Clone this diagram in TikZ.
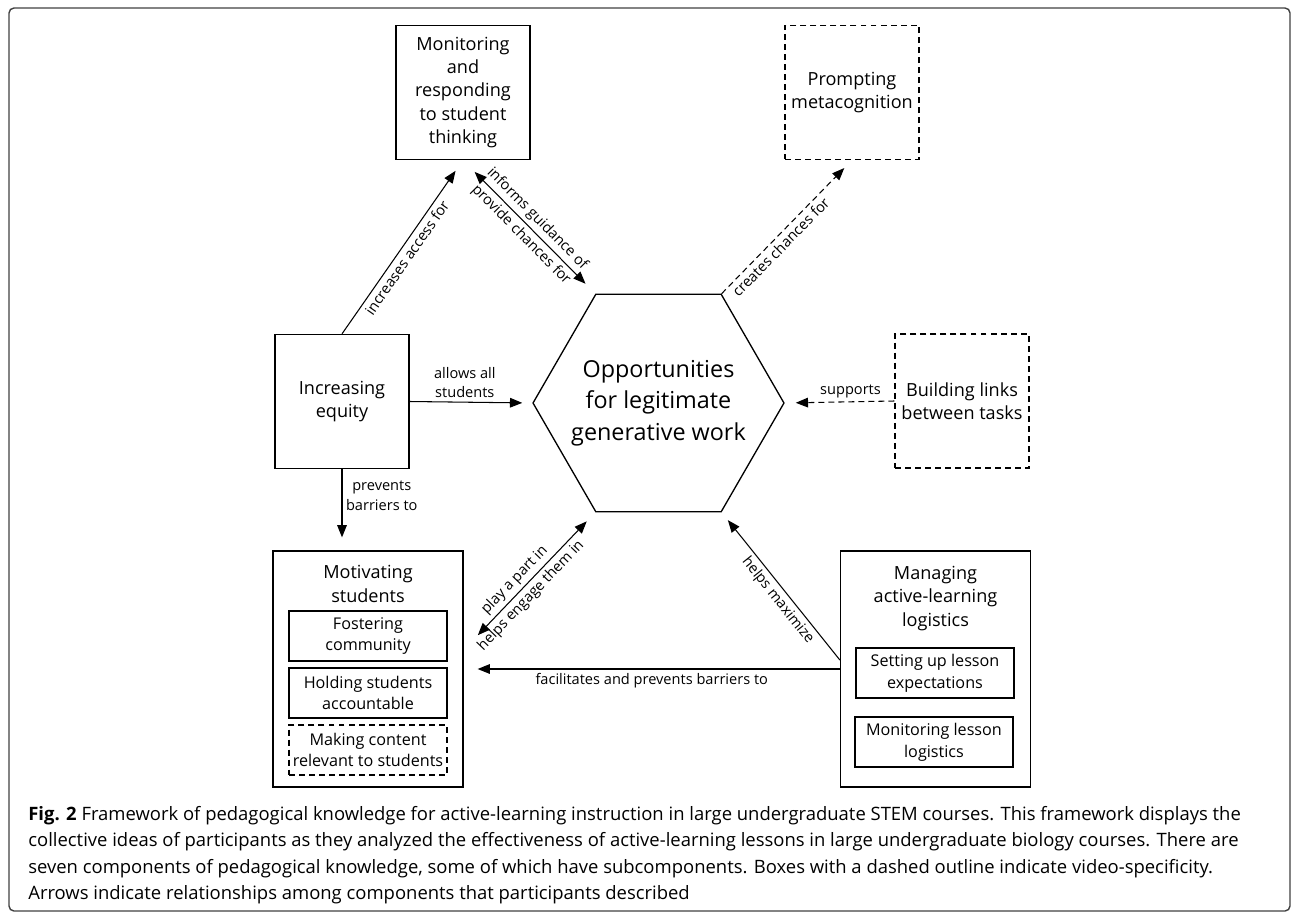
\documentclass[tikz,border=0pt]{standalone}
\usepackage{fontspec}
\setmainfont{Open Sans}
\usetikzlibrary{shapes.geometric,arrows.meta,calc}

\begin{document}
\begin{tikzpicture}[x=0.02cm,y=-0.02cm,
	boite/.style={draw, line width=0.75pt, align=center, inner sep=2pt, font=\fontsize{10.3}{13.3}\selectfont},
	titre/.style={align=center, inner sep=0pt, font=\fontsize{10.3}{13.3}\selectfont},
	sousboite/.style={draw, line width=0.75pt, align=center, inner sep=1pt, minimum width=3.16cm, minimum height=1cm, font=\fontsize{9.2}{12.3}\selectfont},
	hexa/.style={draw, line width=0.75pt, regular polygon, regular polygon sides=6, minimum size=5.02cm, inner sep=-12pt, align=center, font=\fontsize{13.3}{18}\selectfont},
	pointille/.style={dash pattern=on 3.4pt off 2.3pt},
	fleche/.style={-{Triangle[length=7pt,width=5.5pt]}, line width=0.6pt},
	doublefleche/.style={{Triangle[length=7pt,width=5.5pt]}-{Triangle[length=7pt,width=5.5pt]}, line width=0.6pt},
	etiq/.style={align=center, inner sep=2pt, font=\fontsize{8.3}{11.3}\selectfont},
	legende/.style={align=left, inner sep=0pt, font=\fontsize{10.5}{15}\selectfont}]

	\def\c{2.68cm} % cote des boites carrees
	
	\def\lg{3.8cm} % largeur des grandes boites
	
	\def\hg{4.72cm} % hauteur des grandes boites

	\useasboundingbox (0,0) rectangle (1292,913);
	\draw[rounded corners=0.1cm, line width=0.8pt, black!75] (9,8) rectangle (1290,911);

	\node[boite, minimum width=\c, minimum height=\c] (monit) at (463,92.5) {Monitoring\\and\\responding\\to student\\thinking};
	\node[boite, pointille, minimum width=\c, minimum height=\c] (prompt) at (852,92.5) {Prompting\\metacognition};
	\node[boite, minimum width=\c, minimum height=\c] (equity) at (342,401.5) {Increasing\\equity};
	\node[boite, pointille, minimum width=\c, minimum height=\c] (links) at (962,401) {Building links\\between tasks};
	\node[hexa] (opp) at (658.5,403) {Opportunities\\for legitimate\\generative work};

	\node[boite, minimum width=\lg, minimum height=\hg] (motiv) at (368,669) {};
	\node[titre] (motivT) at (368,584) {Motivating\\students};
	\node[sousboite] (foster) at (368,636) {Fostering\\community};
	\node[sousboite] (hold) at (368,693) {Holding students\\accountable};
	\node[sousboite, pointille] (making) at (368,750) {Making content\\relevant to students};

	\node[boite, minimum width=\lg, minimum height=\hg] (manag) at (935.5,669) {};
	\node[titre] (managT) at (935.5,598.5) {Managing\\active-learning\\logistics};
	\node[sousboite] (setup) at (935,673) {Setting up lesson\\expectations};
	\node[sousboite] (monlog) at (934,742) {Monitoring lesson\\logistics};

	\draw[fleche, shorten >=0.26cm] (equity.north) -- (monit.south) node[etiq, sloped, below, pos=0.47] {increases access for};
	\draw[doublefleche, shorten <=0.33cm, shorten >=0.28cm] (monit.south) -- (opp.120) node[etiq, sloped, above, pos=0.5] {informs guidance of} node[etiq, sloped, below, pos=0.5] {provide chances for};
	\draw[fleche, pointille, shorten >=0.22cm] (opp.60) -- (prompt.south) node[etiq, sloped, below, pos=0.4] {creates chances for};
	\draw[fleche, shorten >=0.2cm] (equity.east) -- (opp.west) node[etiq, above, pos=0.45] {allows all\\students};
	\draw[fleche, pointille, shorten >=0.22cm] (links.west) -- (opp.east) node[etiq, above, pos=0.4] {supports};
	\draw[fleche, shorten >=0.26cm] (equity.south) -- (equity.south |- motiv.north) node[etiq, right, pos=0.33] {prevents\\barriers to};
	\draw[doublefleche, shorten <=0.41cm, shorten >=0.25cm] ([yshift=0.38cm]motiv.east) -- (opp.240) node[etiq, sloped, above, pos=0.45] {play a part in} node[etiq, sloped, below, pos=0.45] {helps engage them in};
	\draw[fleche, shorten >=0.28cm] (manag.west) -- (motiv.east) node[etiq, below, pos=0.5] {facilitates and prevents barriers to};
	\draw[fleche, shorten >=0.2cm] ([yshift=0.18cm]manag.west) -- (opp.300) node[etiq, sloped, below, pos=0.45] {helps maximize};

	\node[legende, anchor=north west] (leg) at (28,806) {\textbf{Fig. 2} Framework of pedagogical knowledge for active-learning instruction in large undergraduate STEM courses. This framework displays the\\collective ideas of participants as they analyzed the effectiveness of active-learning lessons in large undergraduate biology courses. There are\\seven components of pedagogical knowledge, some of which have subcomponents. Boxes with a dashed outline indicate video-specificity.\\Arrows indicate relationships among components that participants described};

\end{tikzpicture}
\end{document}
